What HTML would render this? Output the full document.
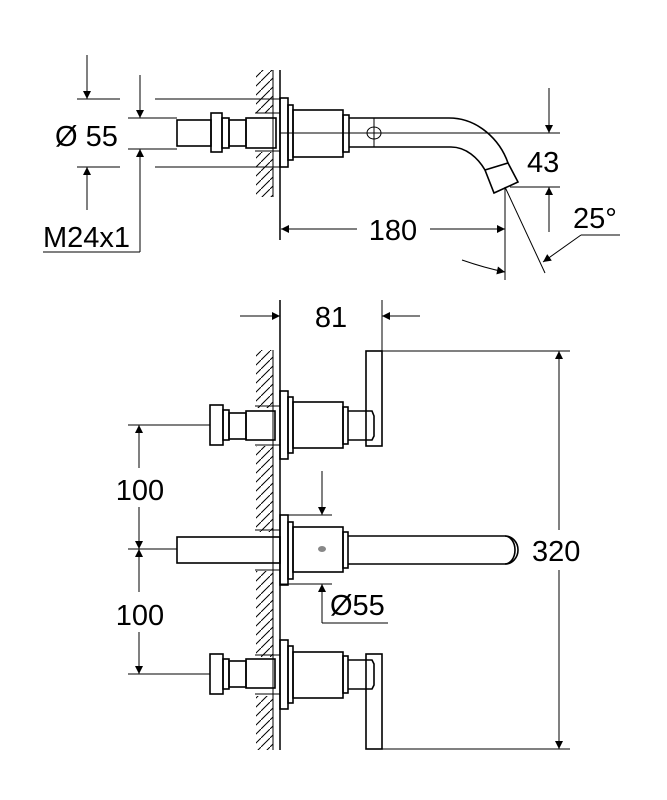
<!DOCTYPE html>
<html><head><meta charset="utf-8"><style>
html,body{margin:0;padding:0;background:#fff}
svg{display:block}
text{font-family:"Liberation Sans",sans-serif;fill:#000}
</style></head><body>
<svg width="667" height="800" viewBox="0 0 667 800" xmlns="http://www.w3.org/2000/svg">
<defs>
<marker id="a" viewBox="0 0 10 10" refX="10" refY="5" markerWidth="12" markerHeight="8" orient="auto-start-reverse" markerUnits="userSpaceOnUse"><path d="M0,0 L10,5 L0,10 z" fill="#000"/></marker>
<pattern id="h" width="9" height="9" patternUnits="userSpaceOnUse"><path d="M0,9 L9,0" stroke="#000" stroke-width="1"/></pattern>
</defs>
<g stroke="#000" fill="none" stroke-width="1">
<rect x="256" y="70" width="17" height="43" fill="url(#h)" stroke="none"/>
<rect x="256" y="152" width="17" height="45" fill="url(#h)" stroke="none"/>
<line x1="273" y1="70" x2="273" y2="197"/>
<line x1="280" y1="70" x2="280" y2="240" stroke-width="1.5"/>
<line x1="255" y1="113" x2="280" y2="113"/>
<line x1="255" y1="151" x2="280" y2="151"/>
<g stroke-width="1.6">
<rect x="177" y="120" width="34" height="26"/>
<rect x="211" y="113" width="11" height="39"/>
<rect x="222" y="118" width="7" height="30"/>
<rect x="229" y="120" width="17" height="26"/>
<rect x="246" y="118" width="30" height="30"/>
<rect x="280" y="98" width="8" height="69"/>
<rect x="288" y="105" width="5" height="55"/>
<rect x="293" y="110" width="50" height="47"/>
<rect x="343" y="115" width="6" height="37"/>
<path d="M349,118 L449,118 C478,118 500,140 508,163"/>
<path d="M349,147 L451,147 C466,147 478,158 485,170"/>
<path d="M485,170 L508,163 L518,182 L494,193 Z"/>
</g>
<ellipse cx="374" cy="133" rx="7" ry="6"/>
<line x1="374" y1="118" x2="374" y2="147"/>
<line x1="280" y1="133" x2="560" y2="133"/>
<line x1="77" y1="99" x2="120" y2="99"/><line x1="155" y1="99" x2="281" y2="99"/>
<line x1="77" y1="167" x2="120" y2="167"/><line x1="155" y1="167" x2="281" y2="167"/>
<line x1="128" y1="118" x2="177" y2="118"/>
<line x1="128" y1="149" x2="177" y2="149"/>
<line x1="87" y1="55" x2="87" y2="99" marker-end="url(#a)"/>
<line x1="87" y1="210" x2="87" y2="167" marker-end="url(#a)"/>
<line x1="140" y1="75" x2="140" y2="118" marker-end="url(#a)"/>
<line x1="140" y1="252" x2="140" y2="149" marker-end="url(#a)"/>
<line x1="43" y1="252" x2="140" y2="252"/>
<line x1="549" y1="88" x2="549" y2="133" marker-end="url(#a)"/>
<line x1="510" y1="187" x2="560" y2="187"/>
<line x1="549" y1="232" x2="549" y2="187" marker-end="url(#a)"/>
<line x1="505" y1="187" x2="505" y2="280"/>
<line x1="281" y1="229" x2="357" y2="229" marker-start="url(#a)"/>
<line x1="430" y1="229" x2="505" y2="229" marker-end="url(#a)"/>
<line x1="505" y1="187" x2="545" y2="273"/>
<line x1="620" y1="235" x2="581" y2="235"/>
<line x1="581" y1="235" x2="543" y2="262" marker-end="url(#a)"/>
<path d="M462,260 Q485,268 505,272" marker-end="url(#a)"/>
<rect x="256" y="350" width="17" height="58" fill="url(#h)" stroke="none"/>
<rect x="256" y="446" width="17" height="86" fill="url(#h)" stroke="none"/>
<rect x="256" y="571" width="17" height="86" fill="url(#h)" stroke="none"/>
<rect x="256" y="696" width="17" height="54" fill="url(#h)" stroke="none"/>
<line x1="273" y1="350" x2="273" y2="750"/>
<line x1="280" y1="300" x2="280" y2="750" stroke-width="1.5"/>
<line x1="255" y1="406" x2="280" y2="406"/><line x1="255" y1="445" x2="280" y2="445"/>
<line x1="255" y1="530" x2="280" y2="530"/><line x1="255" y1="570" x2="280" y2="570"/>
<line x1="255" y1="655" x2="280" y2="655"/><line x1="255" y1="694" x2="280" y2="694"/>
<g stroke-width="1.6">
<rect x="210" y="405" width="13" height="40"/>
<rect x="223" y="410" width="6" height="30"/>
<rect x="229" y="413" width="17" height="26"/>
<rect x="246" y="411" width="29" height="29"/>
<rect x="280" y="391" width="8" height="68"/>
<rect x="288" y="397" width="5" height="56"/>
<rect x="293" y="402" width="50" height="46"/>
<rect x="343" y="407" width="5" height="37"/>
<path d="M348,411 L372,411 L374,416 L374,436 L372,440 L348,440"/>
<rect x="366" y="351" width="16" height="95"/>
<rect x="177" y="537" width="103" height="26"/>
<rect x="280" y="515" width="8" height="70"/>
<rect x="288" y="522" width="5" height="57"/>
<rect x="293" y="527" width="50" height="45"/>
<rect x="343" y="532" width="5" height="36"/>
<path d="M348,536 L505,536 A10,14 0 0 1 505,564 L348,564"/>
<path d="M505,536 A13,14 0 0 1 505,564"/>
<rect x="210" y="654" width="13" height="40"/>
<rect x="223" y="659" width="6" height="30"/>
<rect x="229" y="661" width="17" height="26"/>
<rect x="246" y="659" width="29" height="29"/>
<rect x="280" y="640" width="8" height="69"/>
<rect x="288" y="646" width="5" height="57"/>
<rect x="293" y="652" width="50" height="46"/>
<rect x="343" y="656" width="5" height="37"/>
<path d="M348,660 L372,660 L374,664 L374,685 L372,689 L348,689"/>
<rect x="366" y="654" width="16" height="95"/>
</g>
<ellipse cx="322" cy="549" rx="4" ry="3" fill="#888" stroke="none"/>
<line x1="382" y1="300" x2="382" y2="351"/>
<line x1="240" y1="316" x2="280" y2="316" marker-end="url(#a)"/>
<line x1="420" y1="316" x2="382" y2="316" marker-end="url(#a)"/>
<line x1="382" y1="351" x2="570" y2="351"/>
<line x1="382" y1="749" x2="570" y2="749"/>
<line x1="559" y1="530" x2="559" y2="351" marker-end="url(#a)"/>
<line x1="559" y1="570" x2="559" y2="749" marker-end="url(#a)"/>
<line x1="128" y1="425" x2="210" y2="425"/>
<line x1="128" y1="549" x2="177" y2="549"/>
<line x1="128" y1="674" x2="210" y2="674"/>
<line x1="139" y1="468" x2="139" y2="425" marker-end="url(#a)"/>
<line x1="139" y1="507" x2="139" y2="549" marker-end="url(#a)"/>
<line x1="139" y1="592" x2="139" y2="549" marker-end="url(#a)"/>
<line x1="139" y1="632" x2="139" y2="674" marker-end="url(#a)"/>
<line x1="280" y1="515" x2="332" y2="515"/>
<line x1="280" y1="584" x2="332" y2="584"/>
<line x1="322" y1="471" x2="322" y2="515" marker-end="url(#a)"/>
<line x1="322" y1="623" x2="322" y2="584" marker-end="url(#a)"/>
<line x1="322" y1="623" x2="388" y2="623"/>
</g>
<g font-size="29">
<text x="55" y="146">Ø 55</text>
<text x="43" y="247">M24x1</text>
<text x="527" y="172">43</text>
<text x="393" y="240" text-anchor="middle">180</text>
<text x="573" y="228">25°</text>
<text x="331" y="327" text-anchor="middle">81</text>
<text x="140" y="500" text-anchor="middle">100</text>
<text x="140" y="625" text-anchor="middle">100</text>
<text x="532" y="561">320</text>
<text x="330" y="615">Ø55</text>
</g>
</svg>
</body></html>
